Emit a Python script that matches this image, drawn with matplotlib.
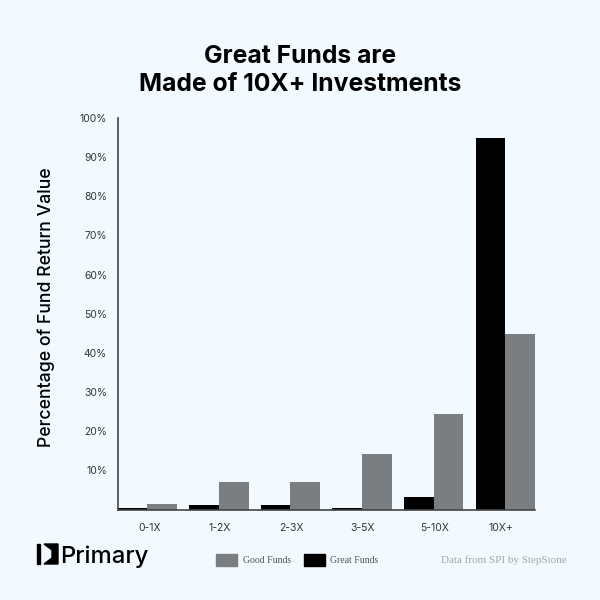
import matplotlib
matplotlib.use('Agg')
import matplotlib.pyplot as plt
from matplotlib.patches import Rectangle, Polygon
from matplotlib.transforms import ScaledTranslation

categories = ['0-1X', '1-2X', '2-3X', '3-5X', '5-10X', '10X+']
great_funds = [0.5, 1.2, 1.2, 0.5, 3.2, 95]
good_funds = [1.5, 6.9, 7, 14.2, 24.3, 44.7]
y_ticks = [10, 20, 30, 40, 50, 60, 70, 80, 90, 100]

bg = '#f2f9ff'
gray = '#7a7e80'
dark = '#333638'

plt.rcParams['font.family'] = ['Inter', 'DejaVu Sans']

fig = plt.figure(figsize=(6, 6), dpi=100, facecolor=bg)
# axes box in pixels: left 117.5, right 535, top 118, bottom 509.5
ax = fig.add_axes([117.5 / 600, 90.5 / 600, 417.5 / 600, 391.5 / 600], facecolor=bg)

width = 0.415
x = list(range(len(categories)))
ax.bar([i - width / 2 for i in x], great_funds, width, color='black')
ax.bar([i + width / 2 for i in x], good_funds, width, color=gray)

ax.set_xlim(-width, 5 + width)
ax.set_ylim(0, 100)
ax.set_xticks(x)
ax.set_xticklabels(categories)
ax.set_yticks(y_ticks)
ax.set_yticklabels([f'{v}%' for v in y_ticks])
ax.tick_params(axis='both', length=0, labelsize=7.5, labelcolor=dark)
ax.tick_params(axis='x', pad=10)
ax.tick_params(axis='y', pad=7.5)
# x labels are not quite centred on the groups in the original
for label, dx in zip(ax.get_xticklabels(), [2, 1, 1, 1, 1, -4]):
    label.set_transform(label.get_transform() + ScaledTranslation(dx / 100, 0, fig.dpi_scale_trans))
for s in ['top', 'right']:
    ax.spines[s].set_visible(False)
ax.spines['left'].set_color('#444444')
ax.spines['left'].set_linewidth(1.2)
ax.spines['bottom'].set_color('#444444')
ax.spines['bottom'].set_linewidth(1.2)

fig.text(46.5 / 600, 1 - 307.5 / 600, 'Percentage of Fund Return Value', rotation=90,
         fontsize=12.7, fontweight='medium', color='black', ha='center', va='center')
fig.text(300 / 600, 1 - 70.5 / 600, 'Great Funds are\nMade of 10X+ Investments', fontsize=17.8,
         fontweight='bold', color='black', ha='center', va='center', linespacing=1.3)

# legend
fig.add_artist(Rectangle((216 / 600, 1 - 566 / 600), 21 / 600, 12 / 600, color=gray,
                         transform=fig.transFigure))
fig.text(243 / 600, 1 - 560.5 / 600, 'Good Funds', fontsize=7, color='#555555',
         family='Liberation Serif', va='center')
fig.add_artist(Rectangle((304 / 600, 1 - 566 / 600), 21 / 600, 12 / 600, color='black',
                         transform=fig.transFigure))
fig.text(330 / 600, 1 - 560.5 / 600, 'Great Funds', fontsize=7, color='#555555',
         family='Liberation Serif', va='center')
fig.text(441 / 600, 1 - 560.5 / 600, 'Data from SPI by StepStone', fontsize=8, color='#a4a8aa',
         family='Liberation Serif', va='center')

# logo
fig.add_artist(Rectangle((37 / 600, 1 - 564 / 600), 2.5 / 600, 20 / 600, color='black',
                         transform=fig.transFigure))
fig.add_artist(Polygon([(44 / 600, 1 - 544 / 600), (58 / 600, 1 - 544 / 600), (58 / 600, 1 - 564 / 600),
                        (44 / 600, 1 - 564 / 600), (52 / 600, 1 - 558 / 600), (52 / 600, 1 - 550 / 600)],
                       color='black', transform=fig.transFigure))
fig.text(60.5 / 600, 1 - 556.5 / 600, 'Primary', fontsize=17.2, fontweight='medium', color='black', va='center')

fig.savefig('out.png', dpi=100, facecolor=bg)
